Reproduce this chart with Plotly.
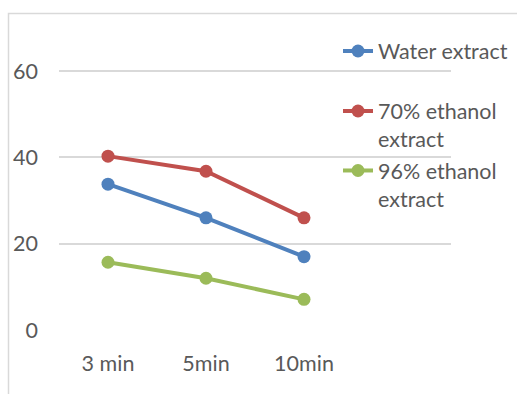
import plotly.graph_objects as go

categories = ["3 min", "5min", "10min"]
water = [33.8, 26.0, 17.0]
ethanol70 = [40.3, 36.8, 26.0]
ethanol96 = [15.7, 12.0, 7.1]

series_names = ["Water extract", "70% ethanol<br>extract", "96% ethanol<br>extract"]
series_values = [water, ethanol70, ethanol96]
colors = ["#4f81bd", "#c0504d", "#9bbb59"]
legend_ids = ["legend", "legend2", "legend3"]

FONT = "Lato"
FSIZE = 21.5
TEXT = "#595959"
GRID = "#d9d9d9"

W, H = 517, 394
L, R, T, B = 59, 66, 28, 64
plot_h = H - T - B
plot_w = W - L - R


def py(pix):
    return (H - B - pix) / plot_h


def px(pix):
    return (pix - L) / plot_w


fig = go.Figure()
for name, vals, col, lg in zip(series_names, series_values, colors, legend_ids):
    fig.add_trace(go.Scatter(
        x=list(range(len(categories))), y=vals, name=name, mode="lines+markers",
        line=dict(color=col, width=4), marker=dict(color=col, size=13),
        legend=lg, showlegend=True,
    ))

legend_common = dict(
    x=px(338), xanchor="left", yanchor="middle", bgcolor="rgba(0,0,0,0)",
    font=dict(family=FONT, size=FSIZE, color=TEXT), valign="top",
)
fig.update_layout(
    width=W, height=H,
    margin=dict(l=L, r=R, t=T, b=B, autoexpand=False),
    paper_bgcolor="white", plot_bgcolor="white",
    showlegend=True,
    font=dict(family=FONT, size=FSIZE, color=TEXT),
    legend=dict(y=py(51), **legend_common),
    legend2=dict(y=py(125), **legend_common),
    legend3=dict(y=py(184.5), **legend_common),
    xaxis=dict(
        tickmode="array", tickvals=list(range(len(categories))), ticktext=categories,
        range=[-0.5, 3.5], showgrid=False, zeroline=False, showline=False,
        ticks="", ticklabelstandoff=18, tickfont=dict(family=FONT, size=FSIZE, color=TEXT),
    ),
    yaxis=dict(
        range=[0, 70], tickvals=[0, 20, 40, 60], showgrid=True, gridcolor=GRID,
        gridwidth=1.5, zeroline=False, showline=False, ticks="",
        ticklabelstandoff=20, tickfont=dict(family=FONT, size=FSIZE, color=TEXT),
    ),
    shapes=[dict(
        type="rect", xref="paper", yref="paper",
        x0=px(8.5), x1=px(W + 20), y0=py(H + 20), y1=py(13.5),
        line=dict(color=GRID, width=1.5), fillcolor="rgba(0,0,0,0)", layer="below",
    )],
)

fig.write_html("out.html")
